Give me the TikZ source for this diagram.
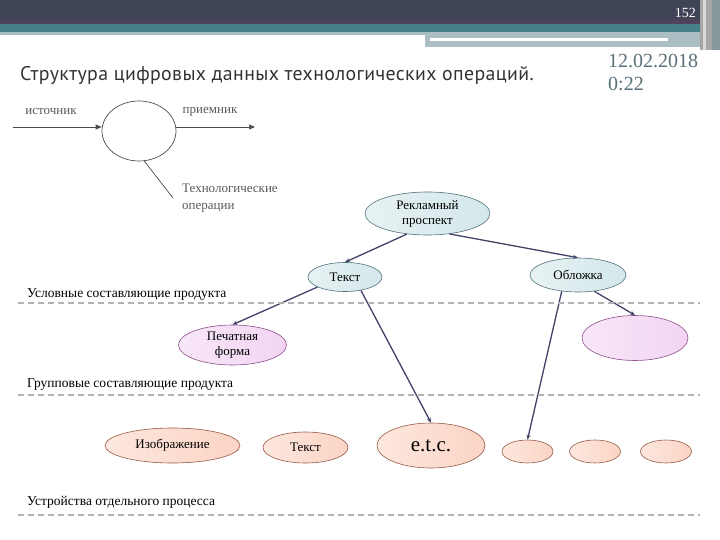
\documentclass[tikz,border=0pt]{standalone}
\usepackage{fontspec}
\setmainfont{Liberation Serif}
\newfontfamily\headfont[LetterSpace=2]{PT Sans}
\usetikzlibrary{positioning,shapes.geometric,arrows.meta}
\definecolor{HeadDark}{RGB}{63,67,86}
\definecolor{HeadPlum}{RGB}{78,66,92}
\definecolor{HeadTeal}{RGB}{70,128,136}
\definecolor{HeadLight}{RGB}{170,190,196}
\definecolor{DateGray}{RGB}{90,112,120}
\definecolor{LinkBlue}{RGB}{66,66,104}
\definecolor{DashGray}{RGB}{178,178,178}
\definecolor{TealFill}{RGB}{212,231,234}
\definecolor{TealEdge}{RGB}{80,115,125}
\definecolor{LilacFill}{RGB}{242,212,242}
\definecolor{LilacEdge}{RGB}{140,80,140}
\definecolor{PeachFill}{RGB}{251,212,196}
\definecolor{PeachEdge}{RGB}{150,90,70}
\tikzset{
  blob/.style={ellipse,inner sep=0pt,line width=0.6pt,align=center,
    font=\fontsize{13}{15}\selectfont},
  tealblob/.style={blob,draw=TealEdge,left color=TealFill!55!white,right color=TealFill},
  lilacblob/.style={blob,draw=LilacEdge,left color=LilacFill!55!white,right color=LilacFill},
  peachblob/.style={blob,draw=PeachEdge,left color=PeachFill!55!white,right color=PeachFill},
  link/.style={draw=LinkBlue,line width=1.3pt,-{Stealth[length=5pt,width=4pt]}},
  thin/.style={draw=black!70,line width=0.7pt},
  level/.style={draw=DashGray,line width=1.6pt,dash pattern=on 6pt off 4pt},
  tier/.style={anchor=base west,inner sep=0pt,font=\fontsize{13.5}{15}\selectfont},
  note/.style={inner sep=0pt,text=black!65,font=\fontsize{13}{17}\selectfont},
}

\begin{document}
\begin{tikzpicture}[x=1pt,y=-1pt]
  \useasboundingbox (0,0) rectangle (720,540);
  % header bands
  \fill[HeadDark] (0,0) rectangle (720,19);
  \fill[HeadPlum] (0,19) rectangle (720,24);
  \fill[HeadTeal] (0,24) rectangle (720,32);
  \fill[HeadLight] (0,32) rectangle (720,35);
  \fill[HeadLight] (425,35) rectangle (700,47);
  \fill[white] (430,38) rectangle (668,41);
  \fill[black!35] (700,0) rectangle (712,50);
  \fill[black!15] (703,0) rectangle (706,50);
  \fill[black!20!HeadLight] (712,0) rectangle (720,50);
  \node[text=white,anchor=base east,inner sep=0pt,font=\fontsize{14}{14}\selectfont]
    (pagenum) at (696,18) {152};
  % title and date
  \node[anchor=base west,inner sep=0pt,text=black!80,font=\headfont\fontsize{19.8}{22}\selectfont]
    (title) at (20,81) {Структура цифровых данных технологических операций.};
  \node[anchor=north west,inner sep=0pt,align=left,text=DateGray,font=\fontsize{20}{23}\selectfont]
    (date) at (608,54) {12.02.2018\\0:22};

  % small scheme
  \node[ellipse,draw=black!70,line width=0.7pt,minimum width=74pt,minimum height=60pt] (proc) at (139,131) {};
  \coordinate (src) at (13,127);
  \coordinate (dst) at (255,127);
  \coordinate (ops) at (173,198);
  \draw[thin,-{Triangle[length=6pt,width=5pt]}] (src) -- (proc.west |- src);
  \draw[thin,-{Triangle[length=6pt,width=5pt]}] (proc.east |- dst) -- (dst);
  \draw[thin] (proc.-80) -- (ops);
  \node[note] (srclbl) at (51,112) {источник};
  \node[note] (dstlbl) at (210,112) {приемник};
  \node[note,anchor=north west,align=left] (opslbl) at (182,184) {Технологические\\операции};

  % tree
  \node[tealblob,minimum width=125pt,minimum height=43pt] (reklama) at (427.5,213.5) {Рекламный\\проспект};
  \node[tealblob,minimum width=74pt,minimum height=29pt] (tekst) at (345,277) {Текст};
  \node[tealblob,minimum width=96pt,minimum height=34pt] (oblozhka) at (578,275) {Обложка};
  \node[lilacblob,minimum width=108pt,minimum height=40pt] (pechat) at (232.5,345) {Печатная\\форма};
  \node[lilacblob,minimum width=106pt,minimum height=45pt] (cover) at (635,338) {};
  \node[peachblob,minimum width=135pt,minimum height=35pt] (image) at (172.5,445.5) {Изображение};
  \node[peachblob,minimum width=85pt,minimum height=31pt] (text2) at (305.5,447.5) {Текст};
  \node[peachblob,minimum width=108pt,minimum height=45pt,font=\fontsize{21}{22}\selectfont] (etc) at (431,445.5) {e.t.c.};
  \foreach \n/\x in {devA/527.5,devB/595,devC/666}
    \node[peachblob,minimum width=51pt,minimum height=23pt] (\n) at (\x,451.5) {};

  \draw[link] (reklama.225) -- (tekst.north);
  \draw[link] (reklama.-43) -- (oblozhka.north);
  \draw[link] (tekst.200) -- (pechat.north);
  \draw[link] (tekst.-40) -- (etc.north);
  \draw[link] (oblozhka.225) -- (devA.north);
  \draw[link] (oblozhka.-45) -- (cover.north);

  % levels
  \node[tier] (lvlA) at (27,297) {Условные составляющие продукта};
  \node[tier] (lvlB) at (27,387) {Групповые составляющие продукта};
  \node[tier] (lvlC) at (27,505) {Устройства отдельного процесса};
  \foreach \y in {303,395,515}
    \draw[level] (18,\y) -- (700,\y);
\end{tikzpicture}
\end{document}
